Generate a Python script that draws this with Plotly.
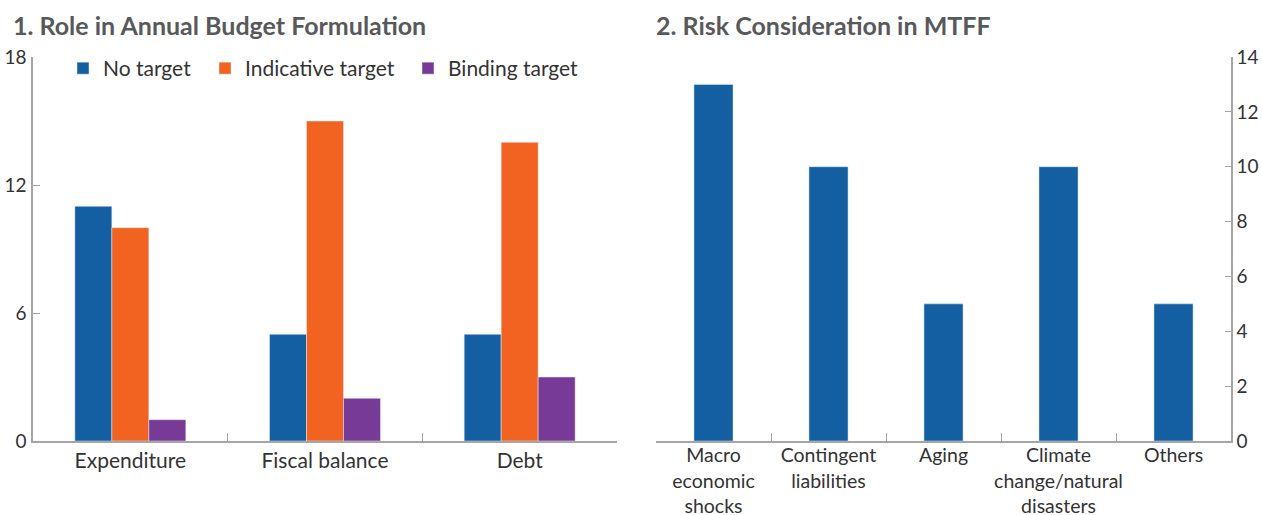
import plotly.graph_objects as go

# panel 1 data
targets = ["Expenditure", "Fiscal balance", "Debt"]
no_target = [11, 5, 5]
indicative_target = [10, 15, 14]
binding_target = [1, 2, 3]

# panel 2 data
risks = ["Macro<br>economic<br>shocks", "Contingent<br>liabilities", "Aging",
         "Climate<br>change/natural<br>disasters", "Others"]
risk_counts = [13, 10, 5, 10, 5]

BLUE = "#135fa1"
ORANGE = "#f26322"
PURPLE = "#773b97"
AXIS = "#a6a6a6"
TXT = "#333333"
FONT = "Lato"

W = 1198.0
d1 = [0, (617 - 33) / W]
d2 = [(656 - 33) / W, 1]

fig = go.Figure()
# one legend per series so each entry sits where it does in the original
fig.add_trace(go.Bar(x=targets, y=no_target, name="No target", marker_color=BLUE,
                     xaxis="x", yaxis="y", legend="legend"))
fig.add_trace(go.Bar(x=targets, y=indicative_target, name="Indicative target",
                     marker_color=ORANGE, xaxis="x", yaxis="y", legend="legend2"))
fig.add_trace(go.Bar(x=targets, y=binding_target, name="Binding target",
                     marker_color=PURPLE, xaxis="x", yaxis="y", legend="legend3"))
fig.add_trace(go.Bar(x=risks, y=risk_counts, marker_color=BLUE, width=0.34,
                     showlegend=False, xaxis="x2", yaxis="y2"))

tick_font = dict(family=FONT, size=21, color=TXT)
ytick_font = dict(family=FONT, size=19, color=TXT)
xcommon = dict(type="category", showline=True, linecolor=AXIS, linewidth=1.5,
               ticks="inside", tickson="boundaries", ticklen=8, tickcolor=AXIS,
               tickangle=0, showgrid=False, zeroline=False, automargin=False)


def leg(xpx):
    return dict(orientation="h", x=xpx / W, y=1.0234, xanchor="left",
                yanchor="top", font=dict(family=FONT, size=21, color=TXT),
                bgcolor="rgba(0,0,0,0)", itemwidth=30)


fig.update_layout(
    width=1262, height=515,
    margin=dict(l=33, r=31, t=57, b=74),
    paper_bgcolor="white", plot_bgcolor="white",
    barmode="group", bargap=0.43, bargroupgap=0,
    font=dict(family=FONT, size=21, color=TXT),
    xaxis=dict(domain=d1, anchor="y", tickfont=tick_font, **xcommon),
    xaxis2=dict(domain=d2, anchor="y2", ticklabelstandoff=-4,
                tickfont=dict(family=FONT, size=19.5, color=TXT), **xcommon),
    yaxis=dict(range=[0, 18], tickvals=[0, 6, 12, 18], showline=True,
               linecolor=AXIS, linewidth=1.5, ticks="inside", ticklen=7,
               tickcolor=AXIS, tickfont=ytick_font, showgrid=False,
               zeroline=False, anchor="x", automargin=False,
               ticklabelstandoff=1),
    yaxis3=dict(range=[0, 18], tickvals=[6, 12, 18], overlaying="y", side="right",
                anchor="x", showline=False, ticks="inside", ticklen=7,
                tickcolor=AXIS, showticklabels=False, showgrid=False,
                zeroline=False, automargin=False),
    yaxis2=dict(range=[0, 14], dtick=2, side="right", anchor="x2", showline=True,
                linecolor=AXIS, linewidth=1.5, ticks="inside", ticklen=6,
                tickcolor=AXIS, tickfont=ytick_font, showgrid=False,
                zeroline=False, automargin=False),
    yaxis4=dict(range=[0, 14], tickvals=[2, 4, 6, 8, 10, 12, 14], overlaying="y2",
                side="left", anchor="x2", showline=False, ticks="inside",
                ticklen=7, tickcolor=AXIS, showticklabels=False,
                showgrid=False, zeroline=False, automargin=False),
    legend=leg(30),
    legend2=leg(172),
    legend3=leg(375),
    annotations=[
        dict(text="1. Role in Annual Budget Formulation", xref="paper",
             yref="paper", x=-22 / W, y=1.0, xanchor="left", yanchor="middle",
             yshift=32, showarrow=False,
             font=dict(family=FONT, size=25, color="#58595b", weight="bold")),
        dict(text="2. Risk Consideration in MTFF", xref="paper",
             yref="paper", x=621 / W, y=1.0, xanchor="left",
             yanchor="middle", yshift=32, showarrow=False,
             font=dict(family=FONT, size=25, color="#58595b", weight="bold")),
    ],
)

# drop the browser's default 8px body margin so the figure fills the window
fig.write_html("out.html", config={"displayModeBar": False},
               post_script="document.body.style.margin = '0';")
